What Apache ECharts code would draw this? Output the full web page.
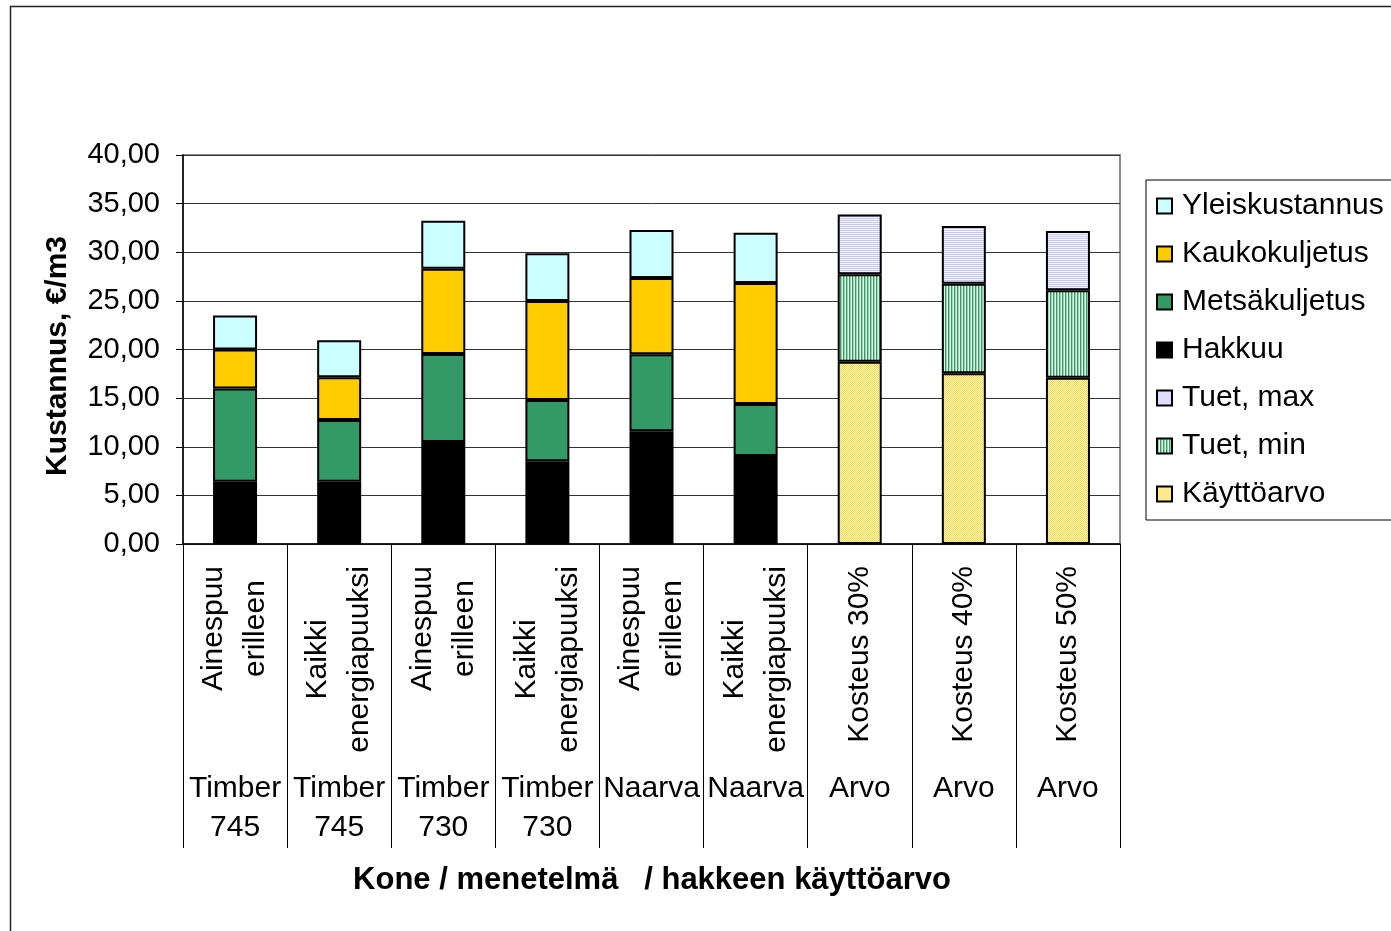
<!DOCTYPE html>
<html>
<head>
<meta charset="utf-8">
<script src="https://cdn.jsdelivr.net/npm/echarts@6/dist/echarts.min.js"></script>
<style>
html,body{margin:0;padding:0;background:#fff;}
#chart{width:1391px;height:931px;}
</style>
</head>
<body>
<div id="chart"></div>
<script>
// ---- data ----
var methodLabels = ['Ainespuu\nerilleen','Kaikki\nenergiapuuksi','Ainespuu\nerilleen','Kaikki\nenergiapuuksi','Ainespuu\nerilleen','Kaikki\nenergiapuuksi','Kosteus 30%','Kosteus 40%','Kosteus 50%'];
var machineLabels = ['Timber\n745','Timber\n745','Timber\n730','Timber\n730','Naarva','Naarva','Arvo','Arvo','Arvo'];
var hakkuu        = [6.4, 6.4, 10.5, 8.5, 11.6, 9.05, '-', '-', '-'];
var metsakuljetus = [9.6, 6.35, 9.05, 6.3, 7.9, 5.35, '-', '-', '-'];
var kaukokuljetus = [4.0, 4.4, 8.75, 10.2, 7.85, 12.45, '-', '-', '-'];
var yleiskustannus= [3.5, 3.8, 4.95, 4.9, 4.95, 5.15, '-', '-', '-'];
var kayttoarvo    = ['-', '-', '-', '-', '-', '-', 18.75, 17.57, 17.09];
var tuetMin       = ['-', '-', '-', '-', '-', '-', 8.98, 9.2, 8.99];
var tuetMax       = ['-', '-', '-', '-', '-', '-', 6.15, 5.94, 6.11];
var yTicks = {min: 0, max: 40, interval: 5};
var legendOrder = ['Yleiskustannus','Kaukokuljetus','Metsäkuljetus','Hakkuu','Tuet, max','Tuet, min','Käyttöarvo'];

// ---- patterns ----
function pattern(w, h, fn) {
  var c = document.createElement('canvas');
  c.width = w; c.height = h;
  var ctx = c.getContext('2d');
  for (var x = 0; x < w; x++) for (var y = 0; y < h; y++) {
    ctx.fillStyle = fn(x, y); ctx.fillRect(x, y, 1, 1);
  }
  return {image: c, repeat: 'repeat'};
}
var patMax = pattern(4, 2, function(x, y){ return y === 0 ? '#c6c6fa' : '#f6f6ff'; });
var patMin = pattern(3, 4, function(x, y){ return x === 0 ? '#339966' : (x === 1 ? '#9bd4b4' : '#e4f4ea'); });
var patKay = pattern(2, 2, function(x, y){ return (x + y) % 2 === 0 ? '#ffd42a' : '#ffffe6'; });

var FONT = '"Liberation Sans", Arial, sans-serif';
var border = {borderColor: '#000', borderWidth: 2};

function bar(name, data, color) {
  return {
    name: name, type: 'bar', stack: 'total', barWidth: 44, data: data,
    itemStyle: Object.assign({color: color}, border),
    emphasis: {disabled: true}
  };
}

var chart = echarts.init(document.getElementById('chart'), null, {renderer: 'canvas'});
var option = {
  animation: false,
  backgroundColor: '#fff',
  textStyle: {fontFamily: FONT, color: '#000'},
  grid: {left: 183, right: 271, top: 155, bottom: 387, show: true, borderColor: '#8c8c8c', borderWidth: 2, backgroundColor: 'transparent'},
  legend: {
    orient: 'vertical', left: 1146, top: 180,
    data: legendOrder, icon: 'rect', itemWidth: 15, itemHeight: 15, itemGap: 18,
    textStyle: {fontFamily: FONT, fontSize: 30, lineHeight: 30, color: '#000', padding: [0, 0, 0, 5]},
    borderColor: '#000', borderWidth: 1, padding: [11, 40, 11, 10],
    selectedMode: false
  },
  xAxis: [{
    type: 'category', data: methodLabels, position: 'bottom',
    axisLine: {lineStyle: {color: '#000', width: 1.5}},
    axisTick: {show: true, length: 304, interval: 0, lineStyle: {color: '#000', width: 1}},
    axisLabel: {
      interval: 0, rotate: 90, margin: 22, fontSize: 30, lineHeight: 42, color: '#000', fontFamily: FONT,
      formatter: function(v){ return v.split('\n').map(function(l){ return '{c|' + l + '}'; }).join('\n'); },
      rich: {c: {align: 'center', fontSize: 30, lineHeight: 42, fontFamily: FONT, color: '#000'}}
    },
    splitLine: {show: false}
  }, {
    type: 'category', data: machineLabels, position: 'bottom', offset: 0,
    axisLine: {show: false}, axisTick: {show: false},
    axisLabel: {interval: 0, margin: 225, fontSize: 30, lineHeight: 39, color: '#000', fontFamily: FONT},
    splitLine: {show: false}
  }],
  yAxis: {
    type: 'value', min: yTicks.min, max: yTicks.max, interval: yTicks.interval,
    axisLine: {show: true, lineStyle: {color: '#000', width: 1.5}},
    axisTick: {show: true, length: 7, lineStyle: {color: '#000'}},
    axisLabel: {fontSize: 29, color: '#000', margin: 23, fontFamily: FONT,
      formatter: function(v){ return v.toFixed(2).replace('.', ','); }},
    splitLine: {show: true, lineStyle: {color: '#333', width: 1}}
  },
  series: [
    bar('Hakkuu', hakkuu, '#000000'),
    bar('Metsäkuljetus', metsakuljetus, '#339966'),
    bar('Kaukokuljetus', kaukokuljetus, '#ffcc00'),
    bar('Yleiskustannus', yleiskustannus, '#ccffff'),
    bar('Käyttöarvo', kayttoarvo, patKay),
    bar('Tuet, min', tuetMin, patMin),
    bar('Tuet, max', tuetMax, patMax)
  ],
  graphic: [
    {type: 'rect', left: 8, top: 4, shape: {width: 1400, height: 940}, style: {fill: 'none', stroke: '#222', lineWidth: 1.5}, silent: true},
    {type: 'text', x: 58, y: 356, rotation: Math.PI / 2, style: {text: 'Kustannus, €/m3', font: 'bold 30px ' + FONT, fill: '#000', align: 'center', verticalAlign: 'middle'}},
    {type: 'text', x: 652, y: 880, style: {text: 'Kone / menetelmä   / hakkeen käyttöarvo', font: 'bold 31px ' + FONT, fill: '#000', align: 'center', verticalAlign: 'middle'}}
  ]
};
chart.setOption(option);
</script>
</body>
</html>
